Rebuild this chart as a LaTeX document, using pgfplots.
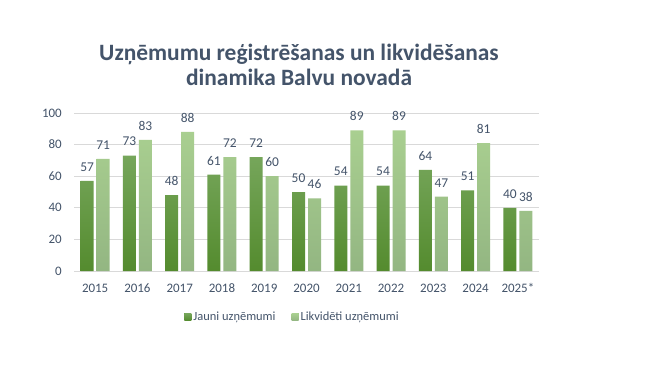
\documentclass[border=0pt]{standalone}
\usepackage{fontspec}
\setmainfont{Carlito}
\usepackage{pgfplots}
\pgfplotsset{compat=1.18}
\definecolor{txt}{HTML}{44546A}
\definecolor{gridc}{HTML}{D9D9D9}
\definecolor{jtop}{HTML}{76A65B}
\definecolor{jbot}{HTML}{548B2E}
\definecolor{jleg}{HTML}{5E9638}
\definecolor{ltop}{HTML}{A9CF90}
\definecolor{lbot}{HTML}{93B682}
\definecolor{lleg}{HTML}{A2C68B}
\begin{document}
\begin{tikzpicture}[x=1bp,y=1bp]
\useasboundingbox[fill=white] (0,0) rectangle (653,376);
\node[align=center, text=txt, font=\fontsize{23.5}{25}\selectfont\bfseries] at (299,311)
  {Uzņēmumu reģistrēšanas un likvidēšanas\\dinamika Balvu novadā};
\begin{axis}[
  at={(74bp,105bp)}, anchor=south west,
  scale only axis, width=465bp, height=158bp,
  xmin=-0.5, xmax=10.5, ymin=0, ymax=100,
  ytick={0,20,...,100},
  xtick={0,...,10},
  xticklabels={2015,2016,2017,2018,2019,2020,2021,2022,2023,2024,2025*},
  ymajorgrids, grid style={draw=gridc, line width=0.8bp},
  axis line style={draw=none},
  major tick length=0pt,
  /pgf/number format/assume math mode=true,
  tick label style={font=\fontsize{13}{15}\selectfont, text=txt},
  yticklabel style={anchor=east, inner sep=0pt, xshift=-12bp},
  xticklabel style={anchor=center, inner sep=0pt, yshift=-17bp},
  ybar=3bp, bar width=13bp,
  nodes near coords,
  every node near coord/.append style={font=\fontsize{13.5}{15}\selectfont, text=txt, anchor=center, yshift=14bp},
  legend style={at={(0.470,-0.291)}, anchor=center, draw=none, fill=none,
    legend columns=2, font=\fontsize{12.5}{14}\selectfont, text=txt,
    /tikz/every even column/.append style={column sep=14bp},
    /tikz/every odd column/.append style={column sep=0bp},
    nodes={inner sep=2bp}},
]
\addplot[draw=none, top color=jtop, bottom color=jbot,
  legend image code/.code={\fill[jleg] (-2bp,-3.5bp) rectangle (5bp,3.5bp);}]
  coordinates {(0,57) (1,73) (2,48) (3,61) (4,72) (5,50) (6,54) (7,54) (8,64) (9,51) (10,40)};
\addplot[draw=none, top color=ltop, bottom color=lbot,
  legend image code/.code={\fill[lleg] (-2bp,-3.5bp) rectangle (5bp,3.5bp);}]
  coordinates {(0,71) (1,83) (2,88) (3,72) (4,60) (5,46) (6,89) (7,89) (8,47) (9,81) (10,38)};
\legend{Jauni uzņēmumi, Likvidēti uzņēmumi}
\end{axis}
\end{tikzpicture}
\end{document}
